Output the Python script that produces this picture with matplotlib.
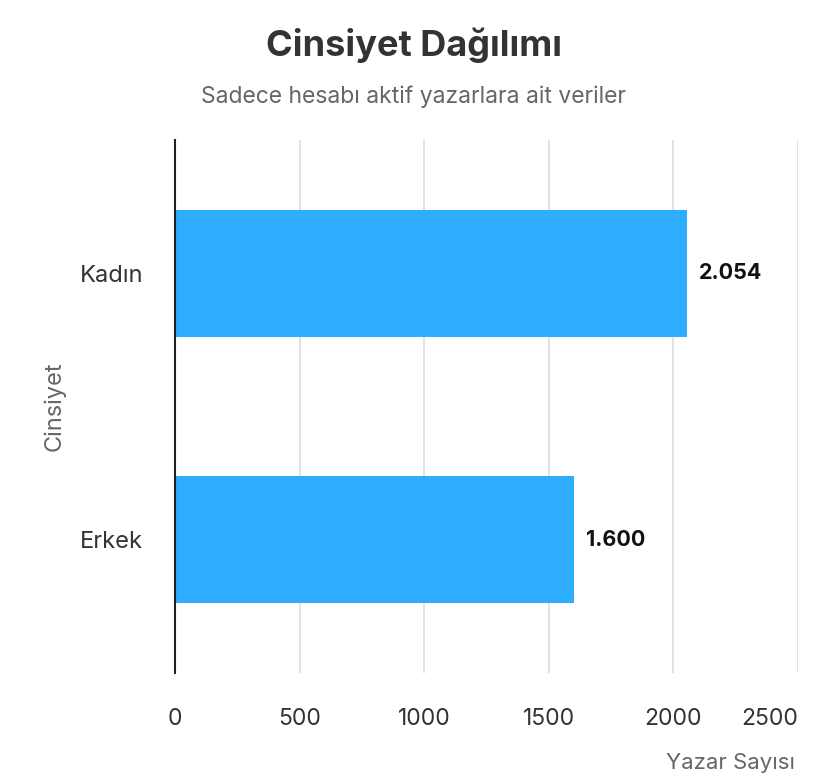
import matplotlib.pyplot as plt

plt.rcParams['font.family'] = ['Inter', 'DejaVu Sans']

categories = ['Erkek', 'Kadın']
values = [1600, 2054]
value_labels = ['1.600', '2.054']
xticks = [0, 500, 1000, 1500, 2000, 2500]

fig = plt.figure(figsize=(8.28, 7.76), dpi=100)
ax = fig.add_axes([0.2114, 0.1327, 0.7524, 0.6869])

ax.barh(categories, values, height=0.475, color='#2eadff', zorder=2)
ax.set_xlim(0, 2500)
ax.set_ylim(-0.5, 1.5)

for i, (v, lab) in enumerate(zip(values, value_labels)):
    ax.text(v + 48, i, lab, va='center', ha='left', fontsize=15.5,
            fontweight='bold', color='#111111')

ax.set_xticks(xticks)
ax.set_xticklabels([str(t) for t in xticks])
ax.get_xticklabels()[-1].set_ha('right')
ax.tick_params(axis='x', length=0, pad=25, labelsize=16.5, labelcolor='#333333')
ax.tick_params(axis='y', length=0, pad=23, labelsize=17, labelcolor='#333333')
ax.grid(axis='x', color='#dddddd', linewidth=1.2, zorder=0)

for s in ['top', 'right', 'bottom']:
    ax.spines[s].set_visible(False)
ax.spines['left'].set_color('#222222')
ax.spines['left'].set_linewidth(1.5)
ax.spines['left'].set_zorder(3)

ax.set_ylabel('Cinsiyet', fontsize=17, color='#666666', labelpad=10)
fig.text(0.96, 0.004, 'Yazar Sayısı', ha='right', va='bottom', fontsize=16, color='#666666')

fig.text(0.5, 0.942, 'Cinsiyet Dağılımı', ha='center', va='center', fontsize=26,
         fontweight='bold', color='#333333')
fig.text(0.5, 0.875, 'Sadece hesabı aktif yazarlara ait veriler', ha='center',
         va='center', fontsize=16.5, color='#666666')

fig.savefig('out.png', dpi=100, facecolor='white')
